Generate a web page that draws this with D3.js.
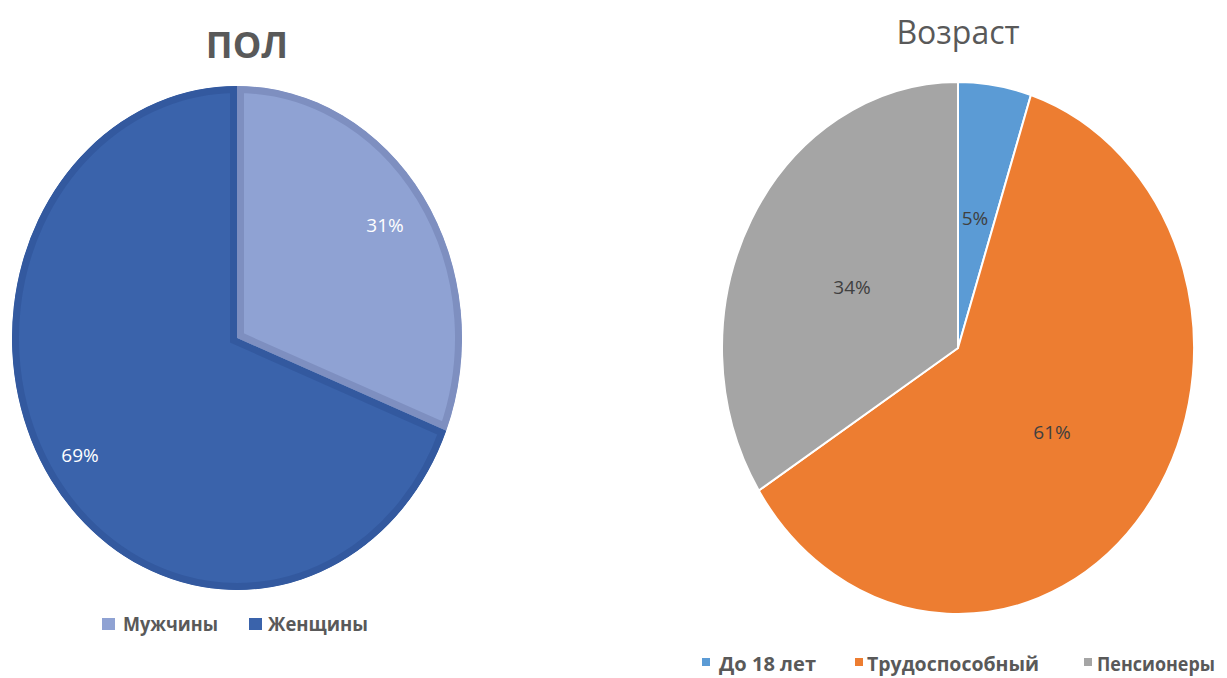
<!DOCTYPE html>
<html>
<head>
<meta charset="utf-8">
<script src="https://cdn.jsdelivr.net/npm/d3@7"></script>
<style>
  body { margin: 0; background: #fff; }
  text { font-family: "Open Sans", "Noto Sans", sans-serif; }
</style>
</head>
<body>
<div id="canvas"></div>
<script>
// two pies: gender + age

const sexLabels = ["Мужчины", "Женщины"];
const sexValues = [31, 69];
const sexColors = ["#8fa2d3", "#3a63ab"];
const sexStroke = ["#7e8fc0", "#33599f"];

const ageLabels = ["До 18 лет", "Трудоспособный", "Пенсионеры"];
const ageValues = [5, 61, 34];
const ageColors = ["#5b9bd5", "#ed7d31", "#a5a5a5"];

const width = 1227;
const height = 678;

const svg = d3.select("#canvas")
    .append("svg")
    .attr("width", width)
    .attr("height", height);

const defs = svg.append("defs");

const pie = d3.pie().sort(null).value(d => d);
const R = 100; // base radius, stretched to ellipse with scale
const arc = d3.arc().innerRadius(0).outerRadius(R);

// ---- left pie (ПОЛ)
const cx1 = 237, cy1 = 338, rx1 = 225, ry1 = 252;

svg.append("text")
    .attr("x", 247).attr("y", 58)
    .attr("text-anchor", "middle")
    .attr("font-size", 36)
    .attr("font-weight", "bold")
    .attr("fill", "#595959")
    .text("ПОЛ");

const g1 = svg.append("g")
    .attr("transform", `translate(${cx1},${cy1}) scale(${rx1 / R},${ry1 / R})`);

const arcs1 = pie(sexValues);

// clip each slice to itself so the border sits inside it
arcs1.forEach((d, i) => {
    defs.append("clipPath")
        .attr("id", "clip" + i)
        .append("path")
        .attr("d", arc(d));
});

g1.selectAll("path")
    .data(arcs1)
    .join("path")
        .attr("d", arc)
        .attr("fill", (d, i) => sexColors[i])
        .attr("stroke", (d, i) => sexStroke[i])
        .attr("stroke-width", 14)
        .attr("vector-effect", "non-scaling-stroke")
        .attr("clip-path", (d, i) => `url(#clip${i})`);

const sexLabelPos = [[385, 225], [80, 455]];
svg.append("g")
    .selectAll("text")
    .data(arcs1)
    .join("text")
        .attr("x", (d, i) => sexLabelPos[i][0])
        .attr("y", (d, i) => sexLabelPos[i][1] + 7)
        .attr("text-anchor", "middle")
        .attr("font-size", 19)
        .attr("fill", "#ffffff")
        .text(d => d.data + "%");

// legend left
const leg1 = svg.append("g").attr("transform", "translate(0,618)");
const leg1sq = [102, 249];
const leg1tx = [123, 268];
const leg1w = [95, 100];
leg1.selectAll("rect")
    .data(sexLabels)
    .join("rect")
        .attr("x", (d, i) => leg1sq[i])
        .attr("y", 0)
        .attr("width", 13)
        .attr("height", 12)
        .attr("fill", (d, i) => sexColors[i]);
leg1.selectAll("text")
    .data(sexLabels)
    .join("text")
        .attr("x", (d, i) => leg1tx[i])
        .attr("y", 13)
        .attr("font-size", 20)
        .attr("font-weight", "bold")
        .attr("fill", "#595959")
        .attr("textLength", (d, i) => leg1w[i])
        .attr("lengthAdjust", "spacingAndGlyphs")
        .text(d => d);

// ---- right pie (Возраст)
const cx2 = 958, cy2 = 348, rx2 = 236, ry2 = 266;

svg.append("text")
    .attr("x", 958).attr("y", 44)
    .attr("text-anchor", "middle")
    .attr("font-size", 32)
    .attr("fill", "#595959")
    .text("Возраст");

const g2 = svg.append("g")
    .attr("transform", `translate(${cx2},${cy2}) scale(${rx2 / R},${ry2 / R})`);

const arcs2 = pie(ageValues);

g2.selectAll("path")
    .data(arcs2)
    .join("path")
        .attr("d", arc)
        .attr("fill", (d, i) => ageColors[i])
        .attr("stroke", "#ffffff")
        .attr("stroke-width", 2)
        .attr("vector-effect", "non-scaling-stroke");

const ageLabelPos = [[975, 218], [1052, 432], [852, 287]];
svg.append("g")
    .selectAll("text")
    .data(arcs2)
    .join("text")
        .attr("x", (d, i) => ageLabelPos[i][0])
        .attr("y", (d, i) => ageLabelPos[i][1] + 7)
        .attr("text-anchor", "middle")
        .attr("font-size", 19)
        .attr("fill", "#404040")
        .text(d => d.data + "%");

// legend right
const leg2 = svg.append("g").attr("transform", "translate(0,658)");
const leg2sq = [702, 855, 1084];
const leg2tx = [719, 867, 1097];
const leg2w = [97, 172, 118];
leg2.selectAll("rect")
    .data(ageLabels)
    .join("rect")
        .attr("x", (d, i) => leg2sq[i])
        .attr("y", 0)
        .attr("width", 8)
        .attr("height", 8)
        .attr("fill", (d, i) => ageColors[i]);
leg2.selectAll("text")
    .data(ageLabels)
    .join("text")
        .attr("x", (d, i) => leg2tx[i])
        .attr("y", 13)
        .attr("font-size", 19)
        .attr("font-weight", "bold")
        .attr("fill", "#595959")
        .attr("textLength", (d, i) => leg2w[i])
        .attr("lengthAdjust", "spacingAndGlyphs")
        .text(d => d);
</script>
</body>
</html>
